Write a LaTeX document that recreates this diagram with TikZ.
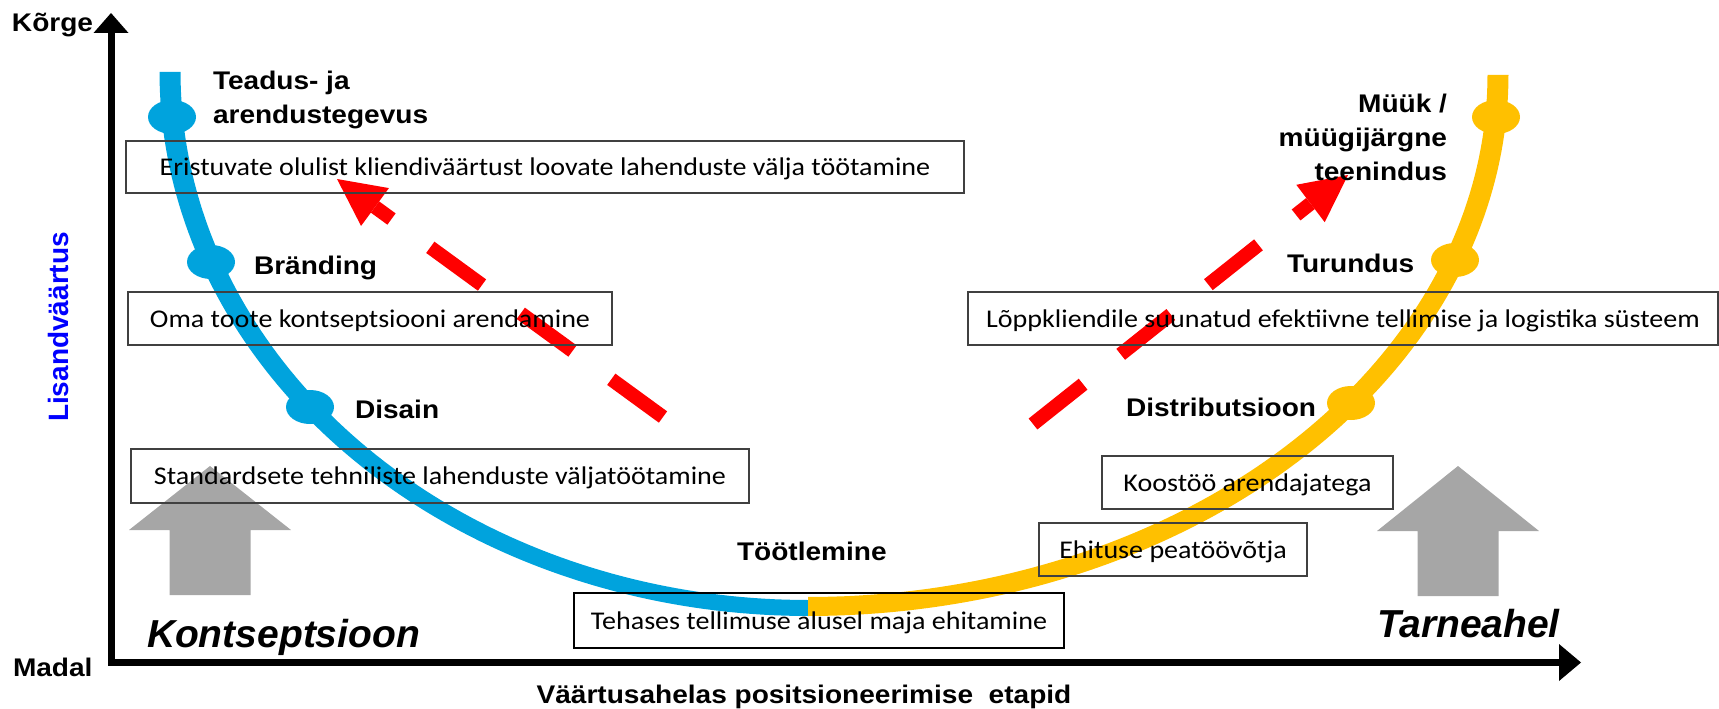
\documentclass[tikz,border=0pt]{standalone}
\usepackage{fontspec}
\setmainfont{Liberation Sans}
\newfontfamily\lblfont{Liberation Sans}[FakeStretch=1.1]
\newfontfamily\boxfont{Carlito}[FakeStretch=1.1]
\usetikzlibrary{calc,shapes.geometric}
\definecolor{cblue}{HTML}{00A3DD}
\definecolor{cyellow}{HTML}{FFC000}
\definecolor{cgray}{HTML}{A6A6A6}
\definecolor{cred}{HTML}{FF0000}
\definecolor{cbox}{HTML}{404040}
\begin{document}
\begin{tikzpicture}[x=1pt,y=-1pt,
  lbl/.style={font=\lblfont\bfseries\fontsize{25.5}{33.8}\selectfont, inner sep=0pt, outer sep=0pt},
  vbox/.style={draw=cbox, line width=1.4pt, font=\boxfont\fontsize{25.5}{30}\selectfont,
    inner sep=0pt, outer sep=0pt, anchor=north west, text height=17pt, text depth=0pt},
  bdot/.style={ellipse, fill=cblue, minimum width=48pt, minimum height=34pt, inner sep=0pt},
  ydot/.style={ellipse, fill=cyellow, minimum width=48pt, minimum height=34pt, inner sep=0pt},
  redline/.style={draw=cred, line width=14pt, dash pattern=on 64pt off 48pt},
  bigitalic/.style={font=\bfseries\itshape\fontsize{39}{45}\selectfont, inner sep=0pt, outer sep=0pt},
  uparrow/.style={fill=cgray},
]
\useasboundingbox (0,0) rectangle (1719,709);

% axes
\coordinate (ytop) at (111,13);
\coordinate (ybase) at (111,33);
\coordinate (origin) at (111,662.5);
\coordinate (xbase) at (1560,662.5);
\coordinate (xtip) at (1581,662.5);
\draw[line width=7pt, line join=miter] (ybase) -- (origin) -- (xbase);
\fill (ytop) -- ($(ybase)+(-17.5,0)$) -- ($(ybase)+(17.5,0)$) -- cycle;
\fill (xtip) -- ($(xbase)+(-1,-18.5)$) -- ($(xbase)+(-1,18.5)$) -- cycle;

% gray arrows
\fill[uparrow] (169.5,595) -- (169.5,530) -- (129,530) -- (210,466) -- (291,530) -- (250.5,530) -- (250.5,595) -- cycle;
\fill[uparrow] (1417.5,596) -- (1417.5,531) -- (1377,531) -- (1458,466) -- (1539,531) -- (1498.5,531) -- (1498.5,596) -- cycle;

% blue curve (band)
\fill[cblue] plot[domain=180:90, samples=90] ({808+648.5*cos(\x)},{72+544*sin(\x)})
  -- plot[domain=90:180, samples=90] ({808+627.5*cos(\x)},{72+528*sin(\x)}) -- cycle;
% yellow curve (band)
\fill[cyellow] plot[domain=90:0, samples=90] ({808+700.5*cos(\x)},{75+541*sin(\x)})
  -- plot[domain=0:90, samples=90] ({808+679.5*cos(\x)},{75+522*sin(\x)}) -- cycle;

% dots
\node[bdot] (d1) at (172,117) {};
\node[bdot] (d2) at (211,262) {};
\node[bdot] (d3) at (310,407) {};
\node[ydot] (y1) at (1496,117) {};
\node[ydot] (y2) at (1455,260) {};
\node[ydot] (y3) at (1351,403) {};

% red dashed arrows
\coordinate (lt) at (663,417);
\coordinate (lb) at (375,207);
\coordinate (lh) at (337,179);
\draw[redline] (lt) -- (lb);
\fill[cred] (lh) -- ($(lb)!23.5pt!90:(lh)$) -- ($(lb)!23.5pt!-90:(lh)$) -- cycle;
\coordinate (rt) at (1033,424);
\coordinate (rb) at (1310.5,203.5);
\coordinate (rh) at (1348,175);
\draw[redline] (rt) -- (rb);
\fill[cred] (rh) -- ($(rb)!23.5pt!90:(rh)$) -- ($(rb)!23.5pt!-90:(rh)$) -- cycle;

% boxes
\node[vbox, minimum width=838pt, minimum height=52pt] (b1) at (126,141) {Eristuvate olulist kliendiväärtust loovate lahenduste välja töötamine};
\node[vbox, minimum width=484pt, minimum height=53pt] (b2) at (128,292) {Oma toote kontseptsiooni arendamine};
\node[vbox, minimum width=618pt, minimum height=54pt] (b3) at (131,449) {Standardsete tehniliste lahenduste väljatöötamine};
\node[vbox, minimum width=490pt, minimum height=55pt, line width=1.8pt, draw=black] (b4) at (574,593) {Tehases tellimuse alusel maja ehitamine};
\node[vbox, minimum width=268pt, minimum height=53pt] (b5) at (1039,523) {Ehituse peatöövõtja};
\node[vbox, minimum width=291pt, minimum height=53pt] (b6) at (1102,456) {Koostöö arendajatega};
\node[vbox, minimum width=750pt, minimum height=53pt] (b7) at (968,292) {Lõppkliendile suunatud efektiivne tellimise ja logistika süsteem};

% labels
\node[lbl, anchor=north west, align=left] (teadus) at (213,71.5) {Teadus- ja\\arendustegevus};
\node[lbl, anchor=base west] (brand) at (254,274) {Bränding};
\node[lbl, anchor=base west] (disain) at (355,418) {Disain};
\node[lbl, anchor=base west] (tootl) at (737,560) {Töötlemine};
\node[lbl, anchor=base west] (turund) at (1287,272) {Turundus};
\node[lbl, anchor=base west] (distr) at (1126,416) {Distributsioon};
\node[lbl, anchor=north east, align=right] (muuk) at (1447,94.5) {Müük /\\müügijärgne\\teenindus};
\node[lbl, anchor=base west] (korge) at (12,32) {Kõrge};
\node[lbl, anchor=base west] (madal) at (13,676) {Madal};
\node[lbl, anchor=base] (xlabel) at (804,703) {Väärtusahelas positsioneerimise\ \ etapid};
\node[font=\bfseries\fontsize{28}{30}\selectfont, text=blue, rotate=90, anchor=base, inner sep=0pt] (ylabel) at (68,327) {Lisandväärtus};
\node[bigitalic, anchor=base west] (kont) at (147,647) {Kontseptsioon};
\node[bigitalic, anchor=base west] (tarne) at (1377,637) {Tarneahel};
\end{tikzpicture}
\end{document}
